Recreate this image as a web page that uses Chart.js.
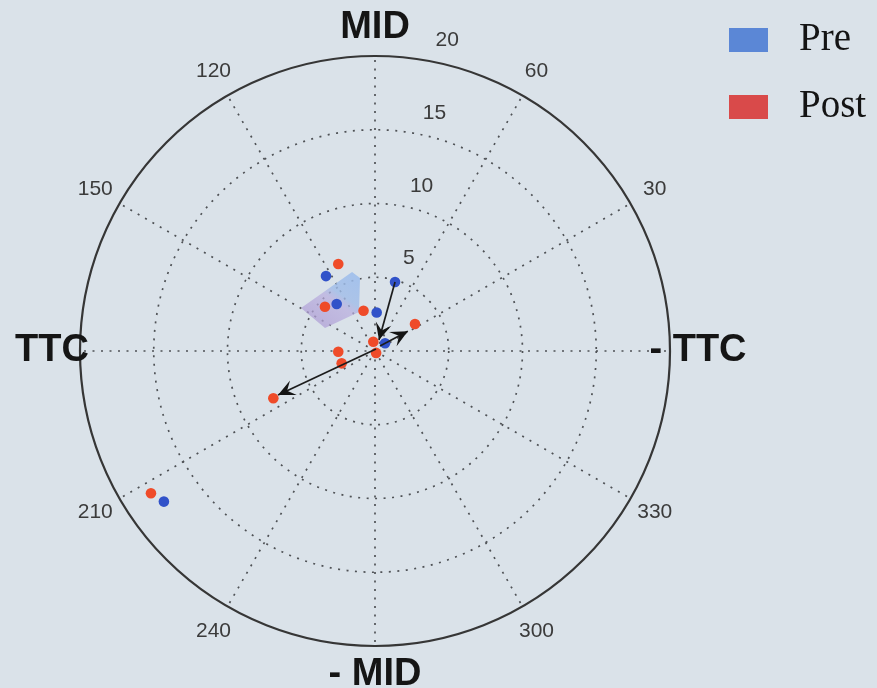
<!DOCTYPE html>
<html>
<head>
<meta charset="utf-8">
<script src="https://cdn.jsdelivr.net/npm/chart.js@4/dist/chart.umd.min.js"></script>
<style>
  html, body { margin: 0; padding: 0; background: #dae2e9; }
  canvas { display: block; }
</style>
</head>
<body>
<canvas id="c" width="877" height="688"></canvas>
<script>
// Series names (legend order)
const seriesNames = ['Pre', 'Post'];

// Pre: polar coordinates (angle in degrees, radius)
const preAngle  = [123.2, 73.8, 129.2, 87.5, 37.6, 215.5];
const preRadius = [6.07, 4.87, 4.11, 2.61, 0.86, 17.58];

// Post: polar coordinates (angle in degrees, radius)
const postAngle  = [112.9, 138.5, 105.9, 34.0, 100.4, 300.0, 181.1, 200.3, 204.9, 212.4];
const postRadius = [6.40, 4.53, 2.84, 3.27, 0.64, 0.15, 2.49, 2.41, 7.60, 17.99];

// Shift vectors (tail -> head), polar coordinates
const arrowFromAngle  = [73.8, 45.0, 63.0];
const arrowFromRadius = [4.87, 0.48, 0.15];
const arrowToAngle    = [70.0, 31.2, 204.4];
const arrowToRadius   = [0.79, 2.60, 7.22];

// Shaded region outline, polar coordinates
const regionAngle  = [106.2, 101.6, 112.3, 155.3, 149.8];
const regionRadius = [5.58, 5.05, 2.86, 3.73, 5.80];

// Polar grid
const ringValues = [5, 10, 15, 20];
const rMax = 20;
const spokeAngles = [0, 30, 60, 90, 120, 150, 180, 210, 240, 270, 300, 330];
const angleTickAngles = [30, 60, 120, 150, 210, 240, 300, 330];
const angleTickLabels = ['30', '60', '120', '150', '210', '240', '300', '330'];
const axisNameAngles = [0, 90, 180, 270];
const axisNames = ['- TTC', 'MID', 'TTC', '- MID'];

const deg = Math.PI / 180;
const toXY = (angles, radii) =>
  angles.map((a, i) => ({ x: radii[i] * Math.cos(a * deg), y: radii[i] * Math.sin(a * deg) }));

const colPre = '#3152c9';
const colPost = '#ef4b29';
const legendPre = '#5b87d6';
const legendPost = '#d94a4a';

const arrowDatasets = arrowFromAngle.map((a, i) => ({
  label: 'arrow' + i,
  data: [
    { x: arrowFromRadius[i] * Math.cos(a * deg), y: arrowFromRadius[i] * Math.sin(a * deg) },
    { x: arrowToRadius[i] * Math.cos(arrowToAngle[i] * deg), y: arrowToRadius[i] * Math.sin(arrowToAngle[i] * deg) }
  ],
  showLine: true,
  borderColor: '#1c1c1c',
  borderWidth: 1.7,
  pointRadius: 0,
  isArrow: true,
  order: 0
}));

// Background fill
const bgPlugin = {
  id: 'bg',
  beforeDraw(chart) {
    const ctx = chart.ctx;
    ctx.save();
    ctx.fillStyle = '#dae2e9';
    ctx.fillRect(0, 0, chart.width, chart.height);
    ctx.restore();
  }
};

// Polar grid, labels and shaded region, drawn through the x/y scales
const polarGrid = {
  id: 'polarGrid',
  beforeDatasetsDraw(chart) {
    const { ctx, scales: { x, y } } = chart;
    const cx = x.getPixelForValue(0), cy = y.getPixelForValue(0);
    const px = (r, a) => x.getPixelForValue(r * Math.cos(a * deg));
    const py = (r, a) => y.getPixelForValue(r * Math.sin(a * deg));
    const rad = (r) => x.getPixelForValue(r) - cx;

    ctx.save();
    // dotted rings and spokes
    ctx.strokeStyle = '#4f5256';
    ctx.lineWidth = 1.7;
    ctx.setLineDash([2, 6.5]);
    ringValues.slice(0, -1).forEach(r => {
      ctx.beginPath();
      ctx.arc(cx, cy, rad(r), 0, Math.PI * 2);
      ctx.stroke();
    });
    spokeAngles.forEach(a => {
      ctx.beginPath();
      ctx.moveTo(cx, cy);
      ctx.lineTo(px(rMax, a), py(rMax, a));
      ctx.stroke();
    });
    ctx.setLineDash([]);

    // outer ring
    ctx.strokeStyle = '#363636';
    ctx.lineWidth = 2.2;
    ctx.beginPath();
    ctx.arc(cx, cy, rad(rMax), 0, Math.PI * 2);
    ctx.stroke();

    // shaded region
    const pts = regionAngle.map((a, i) => [px(regionRadius[i], a), py(regionRadius[i], a)]);
    const g = ctx.createLinearGradient(pts[3][0], pts[3][1], pts[1][0], pts[1][1]);
    g.addColorStop(0, 'rgba(176,160,214,0.75)');
    g.addColorStop(0.45, 'rgba(184,172,222,0.7)');
    g.addColorStop(0.6, 'rgba(160,188,232,0.8)');
    g.addColorStop(1, 'rgba(155,188,236,0.85)');
    ctx.fillStyle = g;
    ctx.beginPath();
    pts.forEach((p, i) => i ? ctx.lineTo(p[0], p[1]) : ctx.moveTo(p[0], p[1]));
    ctx.closePath();
    ctx.fill();

    // angle tick labels
    ctx.fillStyle = '#3b3b3b';
    ctx.font = '21px "Liberation Sans", Arial, sans-serif';
    ctx.textAlign = 'center';
    ctx.textBaseline = 'middle';
    angleTickAngles.forEach((a, i) => {
      ctx.fillText(angleTickLabels[i], px(21.9, a), py(21.9, a));
    });

    // radial tick labels
    ringValues.forEach(r => {
      ctx.fillText(String(r), px(r, 80) + 21, py(r, 80) - 20);
    });

    // axis names
    ctx.fillStyle = '#151515';
    ctx.font = 'bold 38px "Liberation Sans", Arial, sans-serif';
    axisNameAngles.forEach((a, i) => {
      ctx.fillText(axisNames[i], px(21.9, a), py(21.9, a));
    });
    ctx.restore();
  },
  afterDatasetsDraw(chart) {
    const ctx = chart.ctx;
    ctx.save();
    chart.data.datasets.forEach((ds, i) => {
      if (!ds.isArrow) return;
      const pts = chart.getDatasetMeta(i).data;
      const p0 = pts[0], p1 = pts[pts.length - 1];
      const ang = Math.atan2(p1.y - p0.y, p1.x - p0.x);
      const L = 17, W = 8, N = 10;
      const bx = p1.x - L * Math.cos(ang), by = p1.y - L * Math.sin(ang);
      const nx = p1.x - N * Math.cos(ang), ny = p1.y - N * Math.sin(ang);
      ctx.fillStyle = '#141414';
      ctx.beginPath();
      ctx.moveTo(p1.x, p1.y);
      ctx.lineTo(bx - W * Math.sin(ang), by + W * Math.cos(ang));
      ctx.lineTo(nx, ny);
      ctx.lineTo(bx + W * Math.sin(ang), by - W * Math.cos(ang));
      ctx.closePath();
      ctx.fill();
    });
    ctx.restore();
  }
};

// Legend in the upper right
const legendPlugin = {
  id: 'sideLegend',
  afterDraw(chart) {
    const ctx = chart.ctx;
    const cols = [legendPre, legendPost];
    ctx.save();
    ctx.font = '39px "Liberation Serif", "Times New Roman", serif';
    ctx.textBaseline = 'middle';
    ctx.textAlign = 'left';
    seriesNames.forEach((name, i) => {
      const top = 28 + i * 67;
      ctx.fillStyle = cols[i];
      ctx.fillRect(729, top, 39, 24);
      ctx.fillStyle = '#141414';
      ctx.fillText(name, 799, top + 12);
    });
    ctx.restore();
  }
};

new Chart(document.getElementById('c'), {
  type: 'scatter',
  data: {
    datasets: [
      ...arrowDatasets,
      {
        label: seriesNames[0],
        data: toXY(preAngle, preRadius),
        backgroundColor: colPre,
        borderWidth: 0,
        pointRadius: 5.3,
        order: 1
      },
      {
        label: seriesNames[1],
        data: toXY(postAngle, postRadius),
        backgroundColor: colPost,
        borderWidth: 0,
        pointRadius: 5.3,
        order: 2
      }
    ]
  },
  options: {
    responsive: false,
    animation: false,
    layout: { padding: { left: 80, right: 207, top: 56, bottom: 42 } },
    scales: {
      x: { type: 'linear', min: -rMax, max: rMax, display: false },
      y: { type: 'linear', min: -rMax, max: rMax, display: false }
    },
    plugins: {
      legend: { display: false },
      tooltip: { enabled: false }
    }
  },
  plugins: [bgPlugin, polarGrid, legendPlugin]
});
</script>
</body>
</html>
